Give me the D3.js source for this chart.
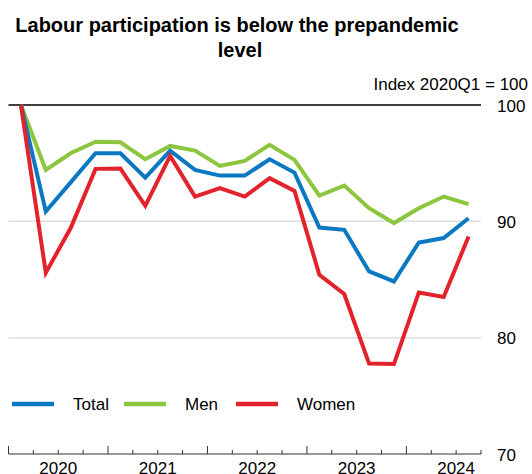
<!DOCTYPE html>
<html lang="en">
<head>
    <meta charset="UTF-8">
    <title>Labour participation</title>
    <script src="https://d3js.org/d3.v7.min.js"></script>
    <style>
        body { margin: 0; background: white; }
        text { font-family: "Liberation Sans", Arial, sans-serif; fill: #000; }
    </style>
</head>
<body>
    <svg id="svg1" width="532" height="474" style="background: white"></svg>

    <script>
        // data -------------------------------------------------------------------
        const quarters = ["2020Q1","2020Q2","2020Q3","2020Q4","2021Q1","2021Q2","2021Q3","2021Q4",
                          "2022Q1","2022Q2","2022Q3","2022Q4","2023Q1","2023Q2","2023Q3","2023Q4",
                          "2024Q1","2024Q2","2024Q3"];
        const years = [2020, 2021, 2022, 2023, 2024];
        const total = [100, 90.84, 93.35, 95.85, 95.85, 93.76, 96.08, 94.42, 93.93, 93.93,
                       95.34, 94.19, 89.47, 89.27, 85.69, 84.83, 88.18, 88.56, 90.27];
        const men   = [100, 94.42, 95.85, 96.85, 96.8, 95.34, 96.48, 96.08, 94.76, 95.19,
                       96.57, 95.28, 92.21, 93.07, 91.13, 89.85, 91.13, 92.13, 91.48];
        const women = [100, 85.58, 89.42, 94.51, 94.53, 91.33, 95.62, 92.13, 92.85, 92.13,
                       93.71, 92.62, 85.41, 83.75, 77.77, 77.73, 83.89, 83.49, 88.7];
        const yTicks = [70, 80, 90, 100];
        const seriesNames = ["Total", "Men", "Women"];
        const colors = {Total: "#0b79c1", Men: "#8cc63e", Women: "#e2232b"};

        // chart setup ------------------------------------------------------------
        const svg = d3.select("svg#svg1");
        const plot = {left: 8.5, right: 481, top: 105, bottom: 454};

        const x = d3.scaleLinear().domain([0, quarters.length]).range([plot.left, plot.right]);  // quarter index
        const y = d3.scaleLinear().domain([70, 100]).range([plot.bottom, plot.top]);

        // title
        const title = svg.append("g").attr("font-weight", "bold").attr("font-size", 20)
                         .attr("text-anchor", "middle");
        title.append("text").attr("x", 237).attr("y", 32).text("Labour participation is below the prepandemic");
        title.append("text").attr("x", 240).attr("y", 57).text("level");

        svg.append("text")
            .attr("x", 528).attr("y", 90)
            .attr("text-anchor", "end").attr("font-size", 17)
            .text("Index 2020Q1 = 100");

        // gridlines
        svg.append("g").selectAll("line")
            .data(yTicks.filter(d => d > 70))
            .join("line")
            .attr("x1", plot.left).attr("x2", plot.right)
            .attr("y1", d => y(d)).attr("y2", d => y(d))
            .attr("stroke", d => d === 100 ? "#000" : "#dedede")
            .attr("stroke-width", d => d === 100 ? 1.3 : 1.5);

        // right axis labels
        const yAxis = d3.axisRight(y).tickValues(yTicks).tickSize(0).tickPadding(0);
        const yg = svg.append("g")
            .attr("transform", `translate(497, 0)`)
            .call(yAxis);
        yg.select(".domain").remove();
        yg.selectAll("text")
            .attr("font-size", 17)
            .attr("font-family", "Liberation Sans, Arial, sans-serif")
            .attr("fill", "#000")
            .attr("dy", "0.36em");

        // x axis: baseline, quarter ticks, year labels
        const xg = svg.append("g");
        xg.append("line")
            .attr("x1", plot.left).attr("x2", plot.right)
            .attr("y1", plot.bottom).attr("y2", plot.bottom)
            .attr("stroke", "#333").attr("stroke-width", 1);
        xg.selectAll("line.tick")
            .data(d3.range(quarters.length + 1))
            .join("line")
            .attr("class", "tick")
            .attr("x1", d => x(d)).attr("x2", d => x(d))
            .attr("y1", plot.bottom)
            .attr("y2", d => plot.bottom - (d % 4 === 0 ? 8 : 4))
            .attr("stroke", "#333").attr("stroke-width", 1);
        xg.selectAll("text")
            .data(years)
            .join("text")
            .attr("x", (d, i) => x(i * 4 + 2))
            .attr("y", 474)
            .attr("text-anchor", "middle")
            .attr("font-size", 17)
            .text(d => d);

        // lines ------------------------------------------------------------------
        const seriesData = {Total: total, Men: men, Women: women};
        const line = d3.line()
            .x((d, i) => x(i + 0.5))
            .y(d => y(d));

        svg.append("g").selectAll("path")
            .data(["Men", "Total", "Women"])
            .join("path")
            .attr("d", name => line(seriesData[name]))
            .attr("fill", "none")
            .attr("stroke", name => colors[name])
            .attr("stroke-width", 4)
            .attr("stroke-linejoin", "miter");

        // legend -----------------------------------------------------------------
        const legendX = [12, 124, 236];
        const legend = svg.append("g").selectAll("g")
            .data(seriesNames)
            .join("g")
            .attr("transform", (d, i) => `translate(${legendX[i]}, 404)`);
        legend.append("line")
            .attr("x1", 0).attr("x2", 42)
            .attr("stroke", d => colors[d]).attr("stroke-width", 4.5);
        legend.append("text")
            .attr("x", 61).attr("dy", "0.36em")
            .attr("font-size", 17)
            .text(d => d);
    </script>
</body>
</html>
